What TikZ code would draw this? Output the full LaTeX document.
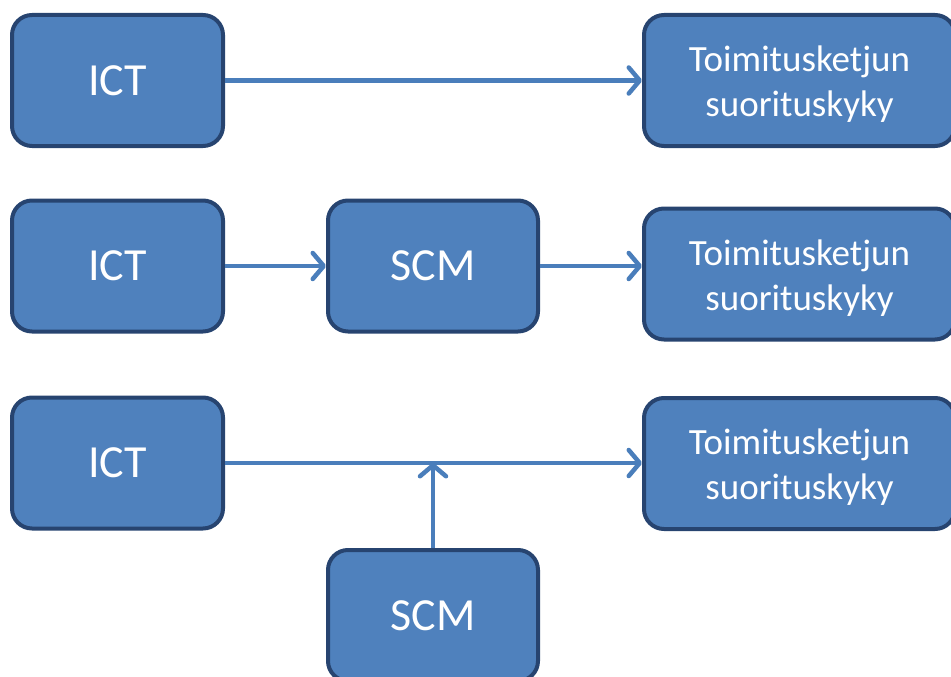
\documentclass[tikz,border=0pt]{standalone}
\usepackage{fontspec}
\setmainfont{Carlito}
\usetikzlibrary{arrows.meta}
\definecolor{boxfill}{HTML}{4F81BD}
\definecolor{boxline}{HTML}{274470}
\definecolor{arrowcol}{HTML}{4A7EBB}
\tikzset{
  box/.style={draw=boxline, fill=boxfill, line width=4pt, rounded corners=20pt,
    minimum height=131pt, inner sep=0pt, text=white, align=center},
  smallbox/.style={box, minimum width=211pt, font=\fontsize{46}{50}\selectfont},
  bigbox/.style={box, minimum width=311pt},
  bigtext/.style={text=white, align=center, inner sep=0pt, yshift=-4pt,
    font=\fontsize{37}{45}\selectfont},
  conn/.style={draw=arrowcol, line width=4.5pt, -{Straight Barb[length=11pt,width=26pt,line cap=round,round]}}
}
\begin{document}
\begin{tikzpicture}[x=1pt,y=-1pt]
\useasboundingbox (0,0) rectangle (951,677);
% row 1
\node[smallbox] (ict1) at (117.5,80.5) {ICT};
\node[bigbox] (t1) at (799.5,80.5) {};
\node[bigtext] (t1txt) at (t1.center) {Toimitusketjun\\suorituskyky};
% row 2
\node[smallbox] (ict2) at (117.5,266) {ICT};
\node[smallbox, minimum width=210pt] (scm2) at (433,266) {SCM};
\node[bigbox] (t2) at (799.5,274) {};
\node[bigtext] (t2txt) at (t2.center) {Toimitusketjun\\suorituskyky};
% row 3
\node[smallbox] (ict3) at (117.5,463) {ICT};
\node[bigbox] (t3) at (799.5,463.5) {};
\node[bigtext] (t3txt) at (t3.center) {Toimitusketjun\\suorituskyky};
\node[smallbox, minimum width=210pt] (scm3) at (433,615.5) {SCM};
% connectors
\draw[conn] (ict1.east) -- (ict1.east -| t1.west);
\draw[conn] (ict2.east) -- (ict2.east -| scm2.west);
\draw[conn] (scm2.east) -- (scm2.east -| t2.west);
\draw[conn] (ict3.east) -- (ict3.east -| t3.west);
\coordinate (join) at (scm3.north |- ict3.east);
\draw[conn] (scm3.north) -- (join);
\end{tikzpicture}
\end{document}
